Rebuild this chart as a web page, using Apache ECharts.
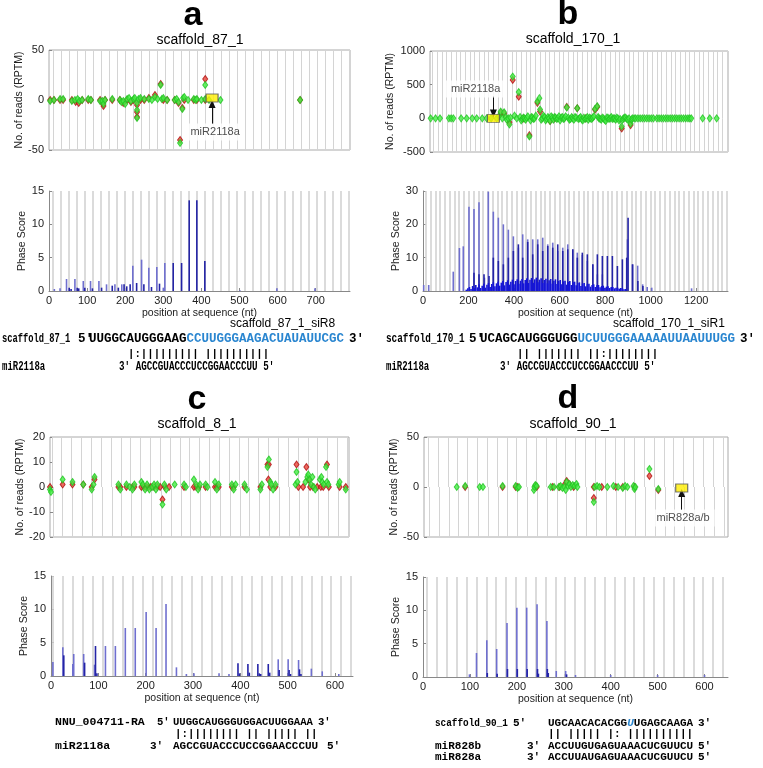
<!DOCTYPE html>
<html>
<head>
<meta charset="utf-8">
<title>phased siRNA loci</title>
<script src="https://cdn.jsdelivr.net/npm/echarts@6/dist/echarts.min.js"></script>
<style>
html, body { margin: 0; padding: 0; background: #fff; }
#main { width: 763px; height: 768px; }
</style>
</head>
<body>
<div id="main"></div>
<script>
// ---------- panel a : scaffold_87_1 ----------
var aRed = [[3,0],[13,0],[29,0],[37,0],[60,0],[70,-2],[78,-3],[87,0],[103,0],[110,0],[134,0],[140,-3],[143,-6],[147,0],[166,0],[186,0],[195,-3],[205,0],[215,-2],[222,0],[231,-17],[231,-12],[231,-5],[240,0],[250,0],[262,2],[278,5],[293,16],[300,0],[310,0],[330,0],[340,-3],[344,-40],[350,-8],[355,0],[380,0],[388,0],[410,21],[410,0],[659,0]];
var aGreen = [[3,-1],[13,0],[29,1],[37,1],[60,-1],[68,0],[75,1],[80,-1],[87,0],[103,1],[110,0],[134,-1],[140,-1],[143,-4],[147,0],[166,1],[186,0],[190,-2],[195,-1],[200,-4],[205,1],[210,2],[215,-1],[222,1],[225,2],[231,-18],[231,-10],[231,-3],[235,1],[240,2],[250,1],[262,1],[270,0],[278,3],[285,1],[293,15],[296,1],[300,2],[310,0],[330,0],[335,1],[340,-2],[344,-43],[350,-9],[352,2],[355,3],[365,0],[380,1],[385,0],[388,1],[400,0],[410,15],[410,1],[420,0],[450,0],[659,0]];
var aSite = [[428, 2]];
var aLight = [[14,0.3],[29,0.4],[46,1.8],[68,1.8],[90,1.5],[109,1.5],[131,1.5],[151,1.0],[173,1.0],[191,1.0],[220,3.8],[243,4.7],[262,3.5],[283,3.6],[300,0.5],[304,4.2],[501,0.1],[598,0.4],[698,0.4]];
var aDark = [[53,0.5],[58,0.3],[74,0.5],[78,0.4],[94,0.5],[114,0.4],[138,0.5],[166,0.8],[182,0.5],[197,1.0],[204,0.7],[213,1.0],[230,1.2],[249,1.0],[269,0.6],[290,1.1],[326,4.2],[348,4.2],[368,13.6],[388,13.6],[409,4.5]];

// ---------- panel b : scaffold_170_1 ----------
var bRed = [[318,80],[333,70],[357,-60],[372,570],[399,320],[447,-250],[483,230],[495,100],[540,-40],[615,170],[662,150],[742,130],[752,170],[862,-150],[902,-100],[420,0],[560,0],[700,0]];
var bGreen = [[3,0],[25,0],[45,0],[85,0],[95,0],[105,0],[140,0],[165,0],[190,0],[210,0],[235,0],[255,0],[275,0],[300,0],[310,30],[318,100],[325,0],[333,90],[340,20],[345,-20],[352,0],[357,-90],[362,10],[372,620],[380,40],[390,0],[399,390],[405,20],[410,-30],[415,-10],[420,10],[425,0],[430,-20],[435,5],[440,30],[447,-270],[452,-30],[456,20],[460,10],[465,-10],[470,0],[476,40],[483,250],[492,300],[495,130],[500,-20],[505,0],[510,40],[515,20],[520,-30],[525,-10],[530,20],[535,0],[540,-40],[545,30],[550,10],[555,-20],[560,20],[565,10],[570,-10],[575,0],[580,30],[585,-30],[590,10],[595,20],[600,-10],[605,0],[610,30],[615,160],[622,10],[627,-20],[632,-10],[637,20],[642,0],[647,-20],[652,20],[657,10],[662,150],[667,-10],[672,0],[677,20],[682,-15],[687,-30],[692,10],[697,-10],[702,0],[707,20],[712,-20],[717,10],[722,0],[727,-10],[732,10],[737,30],[742,140],[752,180],[756,20],[760,0],[765,-10],[770,-20],[775,10],[780,0],[785,-20],[790,-40],[795,10],[800,10],[805,-10],[810,0],[815,20],[820,-10],[825,0],[830,0],[835,-20],[840,10],[845,0],[850,-30],[855,-10],[862,-120],[866,-20],[870,0],[875,10],[880,10],[885,-10],[890,-20],[895,0],[902,-80],[906,-20],[910,0],[918,0],[925,0],[935,0],[945,0],[955,0],[965,0],[975,0],[985,0],[995,0],[1005,0],[1020,0],[1030,0],[1040,0],[1050,0],[1060,0],[1070,0],[1080,0],[1090,0],[1100,0],[1110,0],[1120,0],[1130,0],[1140,0],[1150,0],[1160,0],[1168,0],[1175,0],[1226,0],[1258,0],[1289,0]];
var bSite = [[285, 0]];
var bLight = [[3,1.8],[25,1.8],[133,5.8],[160,12.9],[177,13.4],[202,25.3],[224,24.6],[246,26.6],[270,4.0],[287,29.8],[309,23.8],[331,22.0],[353,20.0],[375,18.4],[397,16.4],[419,13.0],[438,17.0],[460,15.5],[482,15.5],[504,15.5],[526,16.0],[548,14.0],[570,14.5],[592,12.0],[614,13.0],[636,14.0],[658,12.5],[678,11.5],[700,10.8],[722,9.0],[746,8.0],[766,5.0],[788,5.0],[898,15.5],[920,8.0],[943,7.6],[965,2.0],[985,1.2],[1005,1.0],[1180,0.8]];
var bDark = [[224,5.5],[246,5.0],[268,5.0],[290,4.5],[309,10.0],[331,9.0],[353,8.0],[375,10.0],[397,12.0],[419,14.0],[438,10.0],[460,14.7],[482,11.0],[504,14.0],[526,12.0],[548,13.5],[570,13.0],[592,14.0],[614,12.0],[636,12.5],[658,12.5],[678,10.0],[700,11.5],[722,11.0],[746,8.0],[766,11.0],[788,10.5],[810,10.5],[832,10.5],[854,7.5],[876,9.5],[895,10.0],[901,22.0],[921,8.0],[944,3.0],[966,1.5]];
var bLow = [[190,0.4],[197,0.8],[204,1.2],[211,0.6],[218,1.5],[225,0.9],[232,1.8],[239,1.1],[246,2.0],[253,0.9],[260,1.6],[267,2.2],[274,1.0],[281,1.9],[288,2.4],[295,1.2],[302,2.1],[309,2.6],[316,1.4],[323,2.3],[330,2.8],[337,1.6],[344,2.5],[351,3.0],[358,1.7],[365,2.7],[372,3.2],[379,1.9],[386,2.8],[393,3.4],[400,2.0],[407,3.0],[414,3.5],[421,2.2],[428,3.1],[435,3.6],[442,2.3],[449,3.3],[456,3.8],[463,2.4],[470,3.4],[477,3.9],[484,2.5],[491,3.5],[498,4.0],[505,2.6],[512,3.4],[519,3.8],[526,2.4],[533,3.3],[540,3.7],[547,2.3],[554,3.2],[561,3.6],[568,2.2],[575,3.1],[582,3.5],[589,2.1],[596,3.0],[603,3.3],[610,2.0],[617,2.9],[624,3.1],[631,1.9],[638,2.7],[645,3.0],[652,1.8],[659,2.6],[666,2.8],[673,1.7],[680,2.4],[687,2.6],[694,1.5],[701,2.2],[708,2.4],[715,1.4],[722,2.0],[729,2.2],[736,1.3],[743,1.8],[750,2.0],[757,1.2],[764,1.7],[771,1.8],[778,1.1],[785,1.5],[792,1.6],[799,1.0],[806,1.3],[813,1.4],[820,0.9],[827,1.2],[834,1.2],[841,0.8],[848,1.0],[855,1.0],[862,0.7],[869,0.9],[876,0.8],[883,0.5],[890,0.6]];

// ---------- panel c : scaffold_8_1 ----------
var cRed = [[0,0],[27,1],[48,1],[71,1],[89,0],[95,3],[146,0],[150,0],[163,0],[176,0],[180,0],[195,0],[200,0],[205,0],[210,0],[215,0],[222,0],[229,0],[235,0],[240,-5],[245,0],[254,0],[286,0],[307,0],[312,0],[318,0],[332,0],[352,0],[356,0],[360,0],[388,0],[392,0],[415,0],[449,0],[464,9],[467,9],[466,3],[470,0],[481,0],[526,9],[530,0],[540,0],[547,8],[551,3],[555,0],[561,0],[570,0],[578,0],[583,0],[591,9],[595,0],[618,0],[631,0]];
var cGreen = [[0,-1],[2,-2],[27,3],[48,2],[71,1],[89,-1],[95,4],[93,1],[146,1],[150,-1],[163,1],[170,0],[176,-1],[180,1],[195,2],[198,1],[203,-1],[207,1],[212,-1],[218,0],[222,1],[226,-1],[229,1],[240,-7],[244,1],[248,-1],[266,1],[286,1],[290,0],[307,3],[312,1],[316,-1],[320,1],[332,1],[336,0],[352,2],[356,-1],[360,1],[388,1],[392,-1],[396,1],[415,1],[420,-1],[449,-1],[452,1],[464,8],[467,11],[470,2],[472,1],[476,-1],[481,1],[524,1],[526,6],[528,2],[545,2],[549,4],[551,5],[554,3],[557,1],[560,4],[563,0],[566,-1],[576,3],[579,4],[581,2],[584,1],[589,8],[591,2],[594,1],[616,1],[618,2],[631,-1]];
var cLight = [[4,2.1],[25,4.3],[46,1.8],[48,3.3],[69,3.3],[92,1.7],[115,4.5],[136,4.5],[157,7.2],[178,7.2],[201,9.6],[222,7.2],[243,10.8],[265,1.3],[286,0.3],[302,0.4],[355,0.4],[376,0.3],[480,2.5],[501,2.5],[523,2.4],[550,1.1],[573,0.7],[608,0.3]];
var cDark = [[27,3.1],[71,2.0],[94,4.5],[97,0.4],[395,1.9],[398,0.4],[416,1.8],[419,0.5],[437,1.8],[440,0.4],[443,0.3],[459,1.8],[462,0.5],[482,0.9],[503,0.9],[506,0.3],[525,1.0],[528,0.3]];

// ---------- panel d : scaffold_90_1 ----------
var dRed = [[88,0],[168,0],[196,0],[200,0],[238,1],[241,0],[275,0],[290,0],[300,2],[305,6],[312,2],[320,0],[363,-11],[363,0],[380,0],[410,0],[425,0],[450,0],[482,11],[501,-3]];
var dGreen = [[70,0],[88,1],[119,0],[126,0],[168,1],[196,1],[200,-1],[203,0],[235,-3],[236,0],[238,2],[241,1],[271,0],[278,0],[288,0],[292,1],[296,-1],[300,0],[303,-3],[305,5],[308,1],[311,3],[314,0],[318,2],[322,1],[326,3],[328,0],[363,-15],[365,0],[370,1],[375,0],[392,0],[405,1],[415,0],[425,-1],[430,1],[435,0],[448,1],[450,-2],[452,0],[482,18],[501,-2]];
var dSite = [[551, -1]];
var dLight = [[99,0.4],[114,3.6],[136,5.5],[157,4.2],[179,8.1],[200,10.4],[221,10.4],[243,10.9],[264,8.4],[284,0.9],[304,0.9],[325,0.3],[400,0.3],[500,0.3],[600,0.3]];
var dDark = [[137,0.6],[158,0.5],[180,1.2],[201,1.2],[222,1.2],[244,1.2],[246,0.5],[265,1.2],[267,0.6],[306,0.4]];

var PHASE = 21;
var SANS = 'Liberation Sans';
var MONO = 'Liberation Mono';

var panels = [
    {top: {left: 49, top: 50, width: 301, height: 100}, bot: {left: 49, top: 191, width: 301, height: 100},
     xmax: 790, xint: 100, reads: [-50, 50, 50], phase: [15, 5], start: 10, readsGap: 20,
     red: aRed, green: aGreen, site: aSite, arrow: [-24, -4], label: 'miR2118a', labelAt: [436, -32],
     light: aLight, dark: aDark, low: null},
    {top: {left: 430, top: 51, width: 298, height: 101}, bot: {left: 423, top: 191, width: 305, height: 100},
     xmax: 1340, xint: 200, reads: [-500, 1000, 500], phase: [30, 10], start: 12, readsGap: 34,
     red: bRed, green: bGreen, site: bSite, arrow: [330, 70], label: 'miR2118a', labelAt: [205, 436],
     light: bLight, dark: bDark, low: bLow},
    {top: {left: 50, top: 437, width: 299, height: 100}, bot: {left: 51, top: 576, width: 302, height: 100},
     xmax: 638, xint: 100, reads: [-20, 20, 10], phase: [15, 5], start: 4, readsGap: 20,
     red: cRed, green: cGreen, site: null, light: cLight, dark: cDark, low: null},
    {top: {left: 424, top: 437, width: 304, height: 100}, bot: {left: 423, top: 577, width: 305, height: 100},
     xmax: 650, xint: 100, reads: [-50, 50, 50], phase: [15, 5], start: 9, readsGap: 22,
     red: dRed, green: dGreen, site: dSite, arrow: [-23, -6], label: 'miR828a/b', labelAt: [554, -31],
     light: dLight, dark: dDark, low: null}
];

function phaseCoords(start, xmax, y0, y1) {
    var out = [];
    for (var x = start; x <= xmax; x += PHASE) out.push([{coord: [x, y0]}, {coord: [x, y1]}]);
    return out;
}
function plain(v) { return String(v); }

var tickStyle = {fontSize: 11, color: '#222', fontFamily: SANS, formatter: plain};
var nameStyle = {fontSize: 10.5, color: '#222', fontFamily: SANS};

var option = {animation: false, grid: [], xAxis: [], yAxis: [], series: [], graphic: []};

panels.forEach(function (p, i) {
    var g1 = 2 * i, g2 = 2 * i + 1;
    option.grid.push(Object.assign({show: true, borderColor: '#aaa', borderWidth: 1}, p.top));
    option.grid.push(p.bot);

    // reads plot
    option.xAxis.push({gridIndex: g1, type: 'value', min: 0, max: p.xmax, show: false});
    option.yAxis.push({gridIndex: g1, type: 'value', min: p.reads[0], max: p.reads[1], interval: p.reads[2],
        axisLine: {show: false}, axisTick: {show: true, inside: true, length: 3, lineStyle: {color: '#888'}},
        axisLabel: Object.assign({margin: 5}, tickStyle), splitLine: {show: false},
        name: 'No. of reads (RPTM)', nameLocation: 'middle', nameRotate: 90, nameGap: p.readsGap,
        nameTextStyle: nameStyle});
    option.series.push({type: 'scatter', xAxisIndex: g1, yAxisIndex: g1, data: [], silent: true, z: 1,
        markLine: {silent: true, symbol: 'none', z: 1, label: {show: false},
            lineStyle: {color: '#d4d4d4', width: 1, type: 'solid'},
            data: phaseCoords(p.start, p.xmax, 0, p.reads[1]).concat(phaseCoords(p.start + 2, p.xmax, p.reads[0], 0))}});
    option.series.push({type: 'scatter', xAxisIndex: g1, yAxisIndex: g1, data: p.red, z: 4,
        symbol: 'diamond', symbolSize: [5, 7],
        itemStyle: {color: '#e8463a', borderColor: '#b01010', borderWidth: 1}});
    option.series.push({type: 'scatter', xAxisIndex: g1, yAxisIndex: g1, data: p.green, z: 5,
        symbol: 'diamond', symbolSize: [5, 7],
        itemStyle: {color: '#44ee44', borderColor: '#22c422', borderWidth: 1}});
    if (p.site) {
        option.series.push({type: 'scatter', xAxisIndex: g1, yAxisIndex: g1, data: p.site, z: 6,
            symbol: 'rect', symbolSize: [12, 8],
            itemStyle: {color: '#ffee00', borderColor: '#555', borderWidth: 1},
            markLine: {silent: true, z: 6, symbol: ['none', 'triangle'], symbolSize: [7, 8], label: {show: false},
                lineStyle: {color: '#111', width: 1, type: 'solid'},
                data: [[{coord: [p.site[0][0], p.arrow[0]]}, {coord: [p.site[0][0], p.arrow[1]]}]]}});
        option.series.push({type: 'scatter', xAxisIndex: g1, yAxisIndex: g1, z: 7, symbolSize: 0,
            itemStyle: {color: 'transparent'},
            data: [{value: p.labelAt, label: {show: true, position: 'inside', formatter: p.label,
                backgroundColor: '#fff', padding: [3, 5], color: '#222', fontSize: 11, fontFamily: SANS}}]});
    }

    // phase score plot
    option.xAxis.push({gridIndex: g2, type: 'value', min: 0, max: p.xmax, interval: p.xint,
        axisLine: {lineStyle: {color: '#888'}}, axisTick: {inside: true, length: 3, lineStyle: {color: '#888'}},
        axisLabel: Object.assign({margin: 4, showMaxLabel: false}, tickStyle), splitLine: {show: false},
        name: 'position at sequence (nt)', nameLocation: 'middle', nameGap: 17, nameTextStyle: nameStyle});
    option.yAxis.push({gridIndex: g2, type: 'value', min: 0, max: p.phase[0], interval: p.phase[1],
        axisLine: {show: true, lineStyle: {color: '#888'}}, axisTick: {show: true, inside: true, length: 3, lineStyle: {color: '#888'}},
        axisLabel: Object.assign({margin: 5}, tickStyle), splitLine: {show: false},
        name: 'Phase Score', nameLocation: 'middle', nameRotate: 90, nameGap: 18, nameTextStyle: nameStyle});
    option.series.push({type: 'scatter', xAxisIndex: g2, yAxisIndex: g2, data: [], silent: true, z: 1,
        markLine: {silent: true, symbol: 'none', z: 1, label: {show: false},
            lineStyle: {color: '#d2d2d2', width: 1.6, type: 'solid'},
            data: phaseCoords(p.start, p.xmax, 0, p.phase[0])}});
    option.series.push({type: 'bar', xAxisIndex: g2, yAxisIndex: g2, data: p.light, z: 10,
        barWidth: 1.6, barGap: '-100%', itemStyle: {color: '#6f6fcf'}});
    option.series.push({type: 'bar', xAxisIndex: g2, yAxisIndex: g2, data: p.dark, z: 11,
        barWidth: 1.6, barGap: '-100%', itemStyle: {color: '#2424a6'}});
    if (p.low) {
        option.series.push({type: 'bar', xAxisIndex: g2, yAxisIndex: g2, data: p.low, z: 12,
            barWidth: 1.6, barGap: '-100%', itemStyle: {color: '#1515d8'}});
    }
});

// ---------- texts ----------
function txt(x, y, s, font, align, color, sx) {
    return {type: 'text', x: x, y: y, scaleX: sx || 1, silent: true, z: 10,
        style: {text: s, font: font, fill: color || '#000', textAlign: align || 'left', textVerticalAlign: 'middle'}};
}
function mono(size) { return 'bold ' + size + 'px "' + MONO + '"'; }
var BLUE = '#2a86d0';
var letter = 'bold 34px "' + SANS + '"';
var title = '14px "' + SANS + '"';
var small = '12px "' + SANS + '"';

option.graphic = [
    txt(193, 16, 'a', letter, 'center'), txt(568, 15, 'b', letter, 'center'),
    txt(197, 400, 'c', letter, 'center'), txt(568, 399, 'd', letter, 'center'),
    txt(200, 40, 'scaffold_87_1', title, 'center'), txt(573, 39, 'scaffold_170_1', title, 'center'),
    txt(197, 424, 'scaffold_8_1', title, 'center'), txt(573, 424, 'scaffold_90_1', title, 'center'),

    // a
    txt(230, 324, 'scaffold_87_1_siR8', small),
    txt(2, 339, 'scaffold_87_1', mono(12), 'left', '#000', 0.73),
    txt(78, 339, "5'", mono(12.5)),
    txt(89, 339, 'UUGGCAUGGGAAG', mono(12.5)),
    txt(186.5, 339, 'CCUUGGGAAGACUAUAUUCGC', mono(12.5), 'left', BLUE),
    txt(349, 339, "3'", mono(12.5)),
    txt(128, 354, '|:||||||||| ||||||||||', mono(10.7)),
    txt(2, 367, 'miR2118a', mono(12), 'left', '#000', 0.75),
    txt(119, 367, "3' AGCCGUACCCUCCGGAACCCUU 5'", mono(12), 'left', '#000', 0.77),

    // b
    txt(613, 324, 'scaffold_170_1_siR1', small),
    txt(386, 339, 'scaffold_170_1', mono(12), 'left', '#000', 0.78),
    txt(469, 339, "5'", mono(12.5)),
    txt(480, 339, 'UCAGCAUGGGUGG', mono(12.5)),
    txt(577.5, 339, 'UCUUGGGAAAAAUUAAUUUGG', mono(12.5), 'left', BLUE),
    txt(740, 339, "3'", mono(12.5)),
    txt(517, 354, '|| ||||||| ||:||||||||', mono(10.7)),
    txt(386, 367, 'miR2118a', mono(12), 'left', '#000', 0.75),
    txt(500, 367, "3' AGCCGUACCCUCCGGAACCCUU 5'", mono(12), 'left', '#000', 0.77),

    // c
    txt(55, 722, 'NNU_004711-RA', mono(11.5)),
    txt(157, 722, "5'", mono(10.6)),
    txt(173, 722, 'UUGGCAUGGGUGGACUUGGAAA', mono(10.6)),
    txt(318, 722, "3'", mono(10.6)),
    txt(175, 734, '|:|||||||| || ||||| ||', mono(10.8)),
    txt(55, 746, 'miR2118a', mono(11.5)),
    txt(150, 746, "3'", mono(11)),
    txt(173, 746, 'AGCCGUACCCUCCGGAACCCUU', mono(11)),
    txt(327, 746, "5'", mono(11)),

    // d
    txt(435, 723, 'scaffold_90_1', mono(11), 'left', '#000', 0.85),
    txt(513, 723, "5'", mono(11)),
    txt(548, 723, 'UGCAACACACGG', mono(11)),
    txt(627.2, 723, 'U', 'italic ' + mono(11), 'left', BLUE),
    txt(633.8, 723, 'UGAGCAAGA', mono(11)),
    txt(698, 723, "3'", mono(11)),
    txt(548, 734, '|| ||||| |: ||||||||||', mono(11)),
    txt(435, 746, 'miR828b', mono(11)),
    txt(527, 746, "3'", mono(11)),
    txt(548, 746, 'ACCUUGUGAGUAAACUCGUUCU', mono(11)),
    txt(698, 746, "5'", mono(11)),
    txt(435, 757, 'miR828a', mono(11)),
    txt(527, 757, "3'", mono(11)),
    txt(548, 757, 'ACCUUAUGAGUAAACUCGUUCU', mono(11)),
    txt(698, 757, "5'", mono(11))
];

var myChart = echarts.init(document.getElementById('main'));
myChart.setOption(option);
</script>
</body>
</html>
